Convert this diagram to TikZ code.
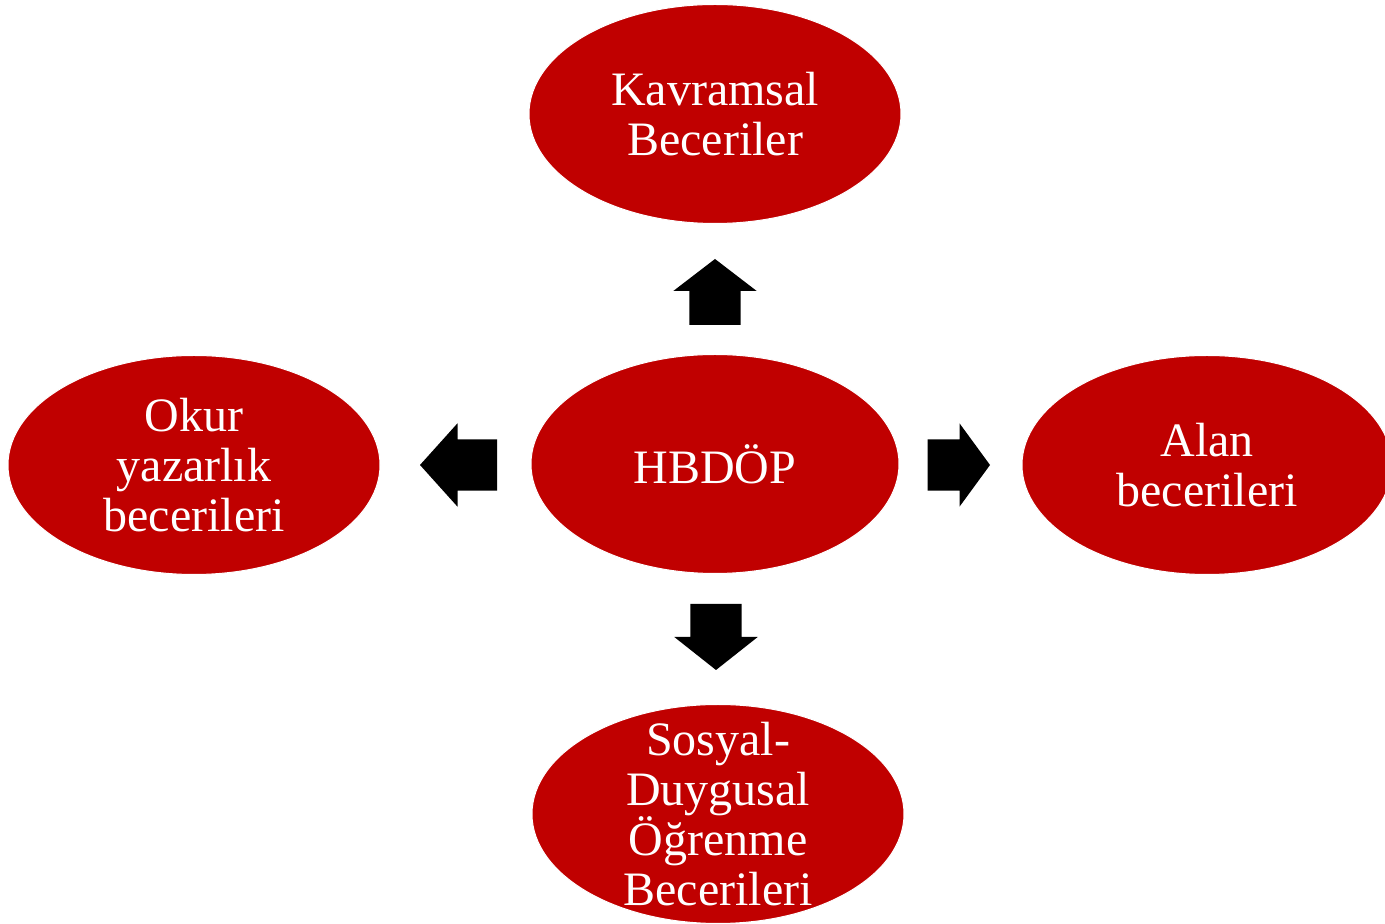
\documentclass[tikz,border=0pt]{standalone}
\usepackage{fontspec}
\setmainfont{Liberation Serif}
\usepackage{tikz}
\usetikzlibrary{shapes}
\definecolor{hbred}{RGB}{192,0,0}
\tikzstyle{bubble}=[ellipse,fill=hbred,draw=white,line width=1pt,inner sep=0pt]
\tikzstyle{bubbletext}=[text=white,align=center,inner sep=0pt,font=\fontsize{48}{50}\selectfont]
\tikzstyle{blockarrow}=[fill=black,draw=none]

\begin{document}
\begin{tikzpicture}[x=1pt,y=1pt]
    \useasboundingbox (0,0) rectangle (1385,924);
    % First we draw the ellipses
    \foreach \pos/\name/\w in {{(715,460)/hb/368}, {(715,810)/kav/372}, {(194,459)/okur/372}, {(1207,459)/alan/370}, {(718,110)/sdo/372}}
        \node[bubble,minimum width=\w pt,minimum height=219pt] (\name) at \pos {};

    % Then the texts inside them
    \foreach \name/\label in {{hb/HBDÖP}, {kav/Kavramsal\\Beceriler}, {okur/Okur\\yazarlık\\becerileri}, {alan/Alan\\becerileri}, {sdo/Sosyal-\\Duygusal\\Öğrenme\\Becerileri}}
        \node[bubbletext] (\name-text) at (\name) {\label};

    % Block arrows going out of the centre: tail point, direction, shaft length, full length
    \foreach \pos/\rot/\shaft/\len in {{(715,599)/90/34/66}, {(716,320)/270/33/66}, {(497,459)/180/39.5/77}, {(927.5,459)/0/32/62.5}}
        \path[blockarrow,shift={\pos},rotate=\rot] (0,-25.7) -- (\shaft,-25.7) -- (\shaft,-41.7) -- (\len,0) -- (\shaft,41.7) -- (\shaft,25.7) -- (0,25.7) -- cycle;
\end{tikzpicture}
\end{document}
